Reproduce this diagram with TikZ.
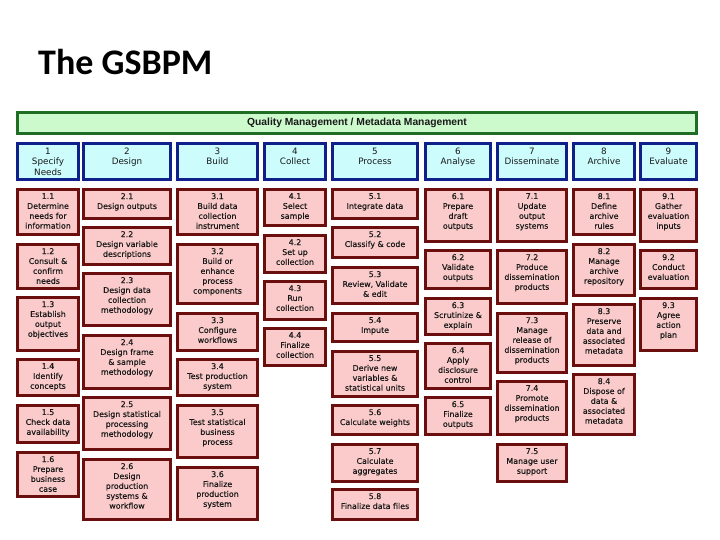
\documentclass[tikz,border=0pt]{standalone}
\usepackage{fontspec}
\setmainfont{DejaVu Sans}
\newfontfamily\boxfont[FakeBold=0.35]{DejaVu Sans}
\newfontfamily\titlefont{Carlito}
\newfontfamily\barfont{Liberation Sans}
\definecolor{subfill}{HTML}{FBCACA}
\definecolor{subdraw}{HTML}{6A0E0E}
\definecolor{hdrfill}{HTML}{CCFCFC}
\definecolor{hdrdraw}{HTML}{10208A}
\definecolor{qmfill}{HTML}{CCFACC}
\definecolor{qmdraw}{HTML}{1F6E24}
\tikzset{
  sub/.style={draw=subdraw, fill=subfill, line width=2.6pt, inner sep=0pt, rectangle},
  subtxt/.style={inner sep=0pt, align=center, font=\boxfont\fontsize{7.9}{9.9}\selectfont, text=black!90},
  hdr/.style={draw=hdrdraw, fill=hdrfill, line width=2.6pt, inner sep=0pt, rectangle},
  hdrtxt/.style={inner sep=0pt, align=center, font=\fontsize{8.8}{10.5}\selectfont, text=black!90},
  qm/.style={draw=qmdraw, fill=qmfill, line width=2.6pt, inner sep=0pt, rectangle},
}
\newcommand\gbx[8]{%
  \node[#2, minimum width={(#5-#3)*1pt-2.6pt}, minimum height={(#6-#4)*1pt-2.6pt}] (#1) at ({(#3+#5)/2},{(#4+#6)/2}) {};
  \node[#2txt, anchor=north] (#1t) at ([yshift=-#8pt]#1.north) {#7};
}
\newcommand\hbx[6]{\gbx{#1}{hdr}{#2}{#3}{#4}{#5}{#6}{5.4}}
\newcommand\sbx[6]{\gbx{#1}{sub}{#2}{#3}{#4}{#5}{#6}{5.0}}
\begin{document}
\begin{tikzpicture}[x=1pt,y=-1pt]
\useasboundingbox (0,0) rectangle (720,540);
\fill[white] (0,0) rectangle (720,540);
\node[anchor=base west, inner sep=0pt, font=\titlefont\bfseries\fontsize{36}{40}\selectfont] (title) at (38,75) {The GSBPM};
% quality management bar
\node[qm, minimum width={682pt-2.6pt}, minimum height={24pt-2.6pt}] (qmbar) at (357,123) {};
\node[inner sep=0pt, font=\barfont\bfseries\fontsize{10.3}{12}\selectfont, text=black!90] (qmtext) at (357,123) {Quality Management / Metadata Management};
% headers
\hbx{h1}{16}{142}{80}{181}{1\\Specify\\Needs}
\hbx{h2}{82}{142}{172}{181}{2\\Design}
\hbx{h3}{176}{142}{259}{181}{3\\Build}
\hbx{h4}{263}{142}{327}{181}{4\\Collect}
\hbx{h5}{331}{142}{419}{181}{5\\Process}
\hbx{h6}{424}{142}{492}{181}{6\\Analyse}
\hbx{h7}{496}{142}{568}{181}{7\\Disseminate}
\hbx{h8}{572}{142}{636}{181}{8\\Archive}
\hbx{h9}{639}{142}{698}{181}{9\\Evaluate}
% column 1
\sbx{s11}{16}{188}{80}{236}{1.1\\Determine\\needs for\\information}
\sbx{s12}{16}{243}{80}{290}{1.2\\Consult \&\\confirm\\needs}
\sbx{s13}{16}{296}{80}{352}{1.3\\Establish\\output\\objectives}
\sbx{s14}{16}{358}{80}{397}{1.4\\Identify\\concepts}
\sbx{s15}{16}{404}{80}{444}{1.5\\Check data\\availability}
\sbx{s16}{16}{451}{80}{498}{1.6\\Prepare\\business\\case}
% column 2
\sbx{s21}{82}{188}{172}{220}{2.1\\Design outputs}
\sbx{s22}{82}{226}{172}{266}{2.2\\Design variable\\descriptions}
\sbx{s23}{82}{272}{172}{327}{2.3\\Design data\\collection\\methodology}
\sbx{s24}{82}{334}{172}{390}{2.4\\Design frame\\\& sample\\methodology}
\sbx{s25}{82}{396}{172}{451}{2.5\\Design statistical\\processing\\methodology}
\sbx{s26}{82}{458}{172}{521}{2.6\\Design\\production\\systems \&\\workflow}
% column 3
\sbx{s31}{176}{188}{259}{236}{3.1\\Build data\\collection\\instrument}
\sbx{s32}{176}{243}{259}{305}{3.2\\Build or\\enhance\\process\\components}
\sbx{s33}{176}{312}{259}{352}{3.3\\Configure\\workflows}
\sbx{s34}{176}{358}{259}{397}{3.4\\Test production\\system}
\sbx{s35}{176}{404}{259}{459}{3.5\\Test statistical\\business\\process}
\sbx{s36}{176}{466}{259}{521}{3.6\\Finalize\\production\\system}
% column 4
\sbx{s41}{263}{188}{327}{227}{4.1\\Select\\sample}
\sbx{s42}{263}{234}{327}{274}{4.2\\Set up\\collection}
\sbx{s43}{263}{280}{327}{321}{4.3\\Run\\collection}
\sbx{s44}{263}{327}{327}{367}{4.4\\Finalize\\collection}
% column 5
\sbx{s51}{331}{188}{419}{220}{5.1\\Integrate data}
\sbx{s52}{331}{226}{419}{259}{5.2\\Classify \& code}
\sbx{s53}{331}{266}{419}{305}{5.3\\Review, Validate\\\& edit}
\sbx{s54}{331}{312}{419}{343}{5.4\\Impute}
\sbx{s55}{331}{350}{419}{398}{5.5\\Derive new\\variables \&\\statistical units}
\sbx{s56}{331}{404}{419}{436}{5.6\\Calculate weights}
\sbx{s57}{331}{443}{419}{483}{5.7\\Calculate\\aggregates}
\sbx{s58}{331}{488}{419}{521}{5.8\\Finalize data files}
% column 6
\sbx{s61}{424}{188}{492}{243}{6.1\\Prepare\\draft\\outputs}
\sbx{s62}{424}{249}{492}{290}{6.2\\Validate\\outputs}
\sbx{s63}{424}{297}{492}{336}{6.3\\Scrutinize \&\\explain}
\sbx{s64}{424}{342}{492}{390}{6.4\\Apply\\disclosure\\control}
\sbx{s65}{424}{396}{492}{436}{6.5\\Finalize\\outputs}
% column 7
\sbx{s71}{496}{188}{568}{243}{7.1\\Update\\output\\systems}
\sbx{s72}{496}{249}{568}{305}{7.2\\Produce\\dissemination\\products}
\sbx{s73}{496}{312}{568}{374}{7.3\\Manage\\release of\\dissemination\\products}
\sbx{s74}{496}{380}{568}{436}{7.4\\Promote\\dissemination\\products}
\sbx{s75}{496}{443}{568}{483}{7.5\\Manage user\\support}
% column 8
\sbx{s81}{572}{188}{636}{236}{8.1\\Define\\archive\\rules}
\sbx{s82}{572}{243}{636}{297}{8.2\\Manage\\archive\\repository}
\sbx{s83}{572}{303}{636}{367}{8.3\\Preserve\\data and\\associated\\metadata}
\sbx{s84}{572}{373}{636}{436}{8.4\\Dispose of\\data \&\\associated\\metadata}
% column 9
\sbx{s91}{639}{188}{698}{243}{9.1\\Gather\\evaluation\\inputs}
\sbx{s92}{639}{249}{698}{290}{9.2\\Conduct\\evaluation}
\sbx{s93}{639}{297}{698}{352}{9.3\\Agree\\action\\plan}
\end{tikzpicture}
\end{document}
